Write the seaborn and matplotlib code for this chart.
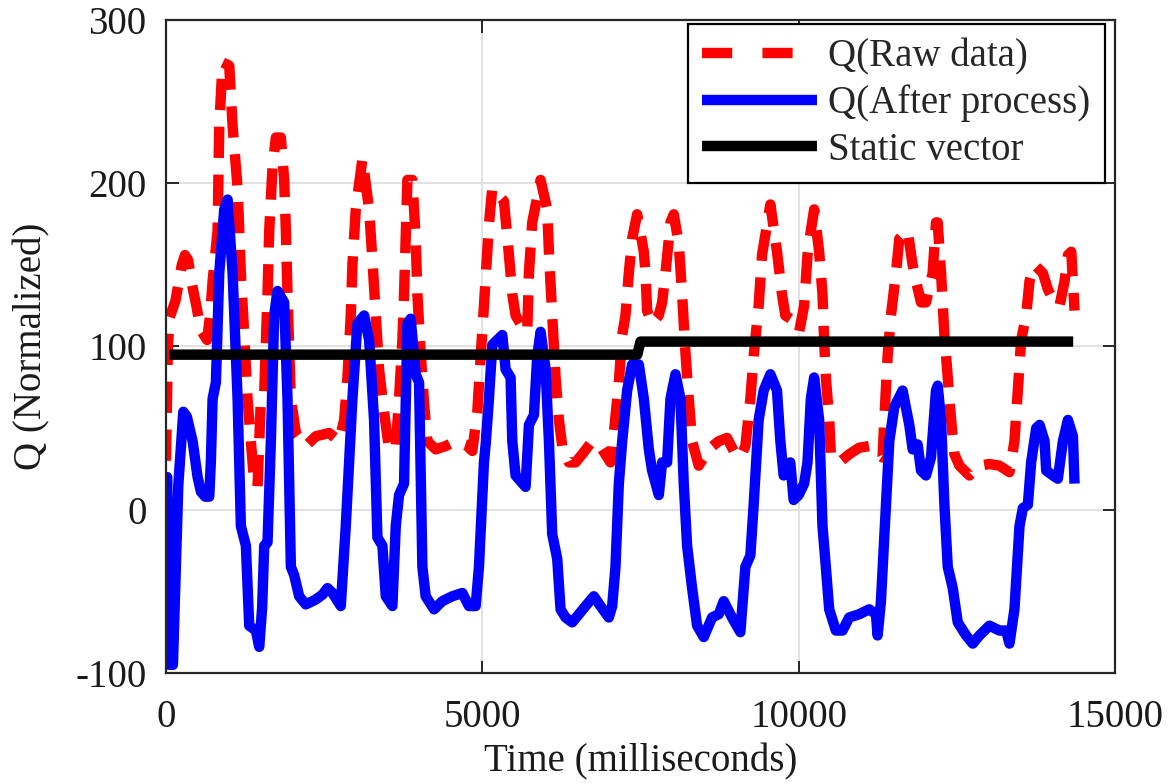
import matplotlib
matplotlib.use("Agg")
import matplotlib.pyplot as plt
import seaborn as sns

# ---- data ----
raw_t = [0, 30, 60, 150, 250, 300, 350, 400, 480, 550, 650, 700, 737, 816, 842, 895,
         1000, 1053, 1132, 1184, 1237, 1289, 1342, 1395, 1447, 1500, 1553, 1605, 1632,
         1684, 1737, 1816, 1868, 1895, 1921, 1947, 1974, 2053, 2210, 2368, 2579, 2737,
         2816, 2868, 2921, 2947, 3000, 3105, 3211, 3263, 3316, 3368, 3447, 3526, 3632,
         3684, 3737, 3763, 3789, 3816, 3895, 3947, 3974, 4026, 4079, 4131, 4263, 4421,
         4579, 4737, 4842, 4921, 4974, 5026, 5105, 5158, 5342, 5421, 5474, 5526, 5632,
         5710, 5737, 5789, 5921, 6026, 6053, 6079, 6132, 6158, 6211, 6263, 6368, 6474,
         6579, 6737, 6895, 7026, 7079, 7158, 7211, 7263, 7316, 7368, 7447, 7553, 7579,
         7605, 7684, 7789, 7842, 7895, 7974, 8026, 8105, 8158, 8211, 8263, 8316, 8421,
         8500, 8579, 8737, 8868, 9000, 9079, 9158, 9237, 9289, 9368, 9421, 9553, 9658,
         9737, 9789, 9868, 10008, 10087, 10140, 10193, 10245, 10324, 10377, 10403,
         10430, 10483, 10509, 10641, 10799, 10958, 11116, 11248, 11327, 11354, 11406,
         11459, 11538, 11591, 11722, 11802, 11855, 11934, 12013, 12118, 12171, 12198,
         12251, 12304, 12357, 12410, 12462, 12541, 12699, 12858, 13016, 13174, 13332,
         13411, 13464, 13517, 13596, 13649, 13728, 13860, 13939, 14045, 14124, 14203,
         14256, 14309, 14361]
raw_q = [30, 100, 118, 128, 150, 156, 153, 140, 125, 110, 104, 120, 140, 171, 235, 274,
         272, 235, 197, 145, 107, 68, 42, 16, 14, 68, 72, 132, 171,
         210, 228, 228, 202, 171, 132, 99, 68, 47, 39, 45, 47, 42,
         55, 81, 119, 150, 184, 215, 184, 153, 119, 86, 60, 37, 38,
         68, 104, 132, 166, 202, 202, 166, 132, 96, 65, 42, 37, 39,
         42, 40, 36, 60, 94, 125, 175, 197, 189, 156, 132, 119, 112,
         109, 145, 176, 202, 184, 158, 138, 99, 81, 55, 39, 29, 29,
         34, 42, 37, 29, 47, 78, 107, 119, 145, 166, 181, 158, 145,
         122, 114, 119, 127, 145, 176, 181, 163, 132, 96, 68, 42, 27,
         32, 37, 42, 44, 34, 32, 39, 68, 94, 125, 156, 187, 158,
         132, 119, 117, 109, 125, 156, 171, 184, 158, 132, 104,
         81, 55, 34, 29, 34, 38, 39, 34, 32, 55, 94,
         119, 145, 166, 171, 150, 140, 127, 127, 145, 176, 176,
         145, 107, 81, 55, 34, 27, 21, 27, 28, 27, 23,
         42, 73, 104, 119, 140, 150, 145, 135, 127, 125, 140,
         156, 158, 122]

proc_t = [0, 20, 50, 110, 195, 274, 330, 421, 500, 553, 620, 684, 710, 737, 789, 842,
          921, 974, 1053, 1132, 1184, 1263, 1316, 1421, 1474, 1520, 1553, 1605, 1658,
          1710, 1763, 1868, 1921, 1974, 2026, 2105, 2210, 2368, 2474, 2553, 2632, 2763,
          2842, 2947, 3026, 3132, 3211, 3289, 3342, 3421, 3474, 3579, 3632, 3684, 3763,
          3816, 3868, 3947, 4000, 4053, 4105, 4237, 4368, 4526, 4684, 4789, 4895, 4947,
          5026, 5053, 5105, 5158, 5316, 5368, 5447, 5474, 5526, 5684, 5737, 5816, 5868,
          5921, 6000, 6053, 6105, 6184, 6237, 6316, 6421, 6526, 6632, 6763, 6868, 7000,
          7053, 7105, 7158, 7211, 7289, 7368, 7474, 7553, 7632, 7684, 7790, 7842, 7921,
          7974, 8053, 8132, 8184, 8237, 8316, 8395, 8500, 8632, 8737, 8816, 8947, 9079,
          9158, 9237, 9289, 9368, 9447, 9553, 9658, 9711, 9763, 9868, 9921, 10000,
          10087, 10140, 10193, 10245, 10324, 10377, 10430, 10483, 10588, 10694, 10799,
          10958, 11116, 11222, 11248, 11301, 11380, 11433, 11512, 11643, 11749, 11802,
          11881, 11934, 12013, 12092, 12171, 12198, 12251, 12304, 12357, 12436, 12515,
          12647, 12752, 12858, 13016, 13174, 13280, 13332, 13411, 13491, 13544, 13623,
          13675, 13755, 13808, 13887, 13913, 14018, 14097, 14177, 14256, 14335, 14361]
proc_q = [20, 20, -95, -95, 15, 60, 57, 42, 20, 11, 8, 8, 30, 68, 78, 145,
          184, 190, 145, 68, -10, -22, -71, -74, -84, -60, -22, -20, 42,
          119, 134, 127, 68, -35, -40, -53, -58, -55, -52, -48, -51, -59,
          -10, 68, 114, 119, 104, 55, -17, -22, -53, -59, -10, 9, 16,
          114, 117, 83, 78, -35, -53, -61, -56, -53, -51, -59, -59, -35,
          29, 40, 68, 101, 107, 86, 81, 42, 21, 14, 52, 58, 94,
          109, 86, 42, -15, -30, -61, -66, -69, -64, -59, -53, -59, -66,
          -59, -35, 16, 42, 73, 89, 89, 68, 37, 24, 9, 29, 29,
          68, 83, 68, 16, -22, -48, -71, -78, -66, -64, -56, -66, -75,
          -35, -28, 3, 55, 73, 83, 73, 42, 21, 29, 6, 9,
          16, 29, 68, 81, 55, -10, -35, -61, -74, -74, -66,
          -64, -61, -64, -77, -56, 3, 42, 63, 73, 52, 37,
          40, 24, 21, 32, 73, 76, 55, 3, -35, -48, -69,
          -77, -82, -77, -71, -74, -74, -82, -61, -10, 1, 3,
          29, 50, 52, 42, 24, 21, 19, 42, 55, 45, 16]

static_t = [50, 7450, 7500, 14340]
static_q = [95, 95, 103, 103]

x_ticks = [0, 5000, 10000, 15000]
y_ticks = [-100, 0, 100, 200, 300]
labels = ["Q(Raw data)", "Q(After process)", "Static vector"]

# ---- style ----
sns.set_theme(style="whitegrid")
plt.rcParams['font.family'] = ['Liberation Serif', 'DejaVu Serif']
plt.rcParams['axes.unicode_minus'] = False

FS = 28
fig = plt.figure(figsize=(11.68, 7.84), dpi=100)
fig.patch.set_facecolor('white')
ax = fig.add_axes([0.1421, 0.1416, 0.8125, 0.8329])
ax.set_facecolor('white')

LW = 7.5
sns.lineplot(x=raw_t, y=raw_q, ax=ax, color='#ff0000', linewidth=LW,
             sort=False, estimator=None, label=labels[0])
sns.lineplot(x=proc_t, y=proc_q, ax=ax, color='#0000ff', linewidth=LW,
             sort=False, estimator=None, label=labels[1])
sns.lineplot(x=static_t, y=static_q, ax=ax, color='black', linewidth=LW,
             sort=False, estimator=None, label=labels[2])

lines = ax.get_lines()
lines[0].set_dashes([3.0, 1.6])
for ln in lines:
    ln.set_solid_joinstyle('round')
    ln.set_solid_capstyle('butt')

ax.set_xlim(0, 15000)
ax.set_ylim(-100, 300)
ax.set_xticks(x_ticks)
ax.set_yticks(y_ticks)
ax.set_xticklabels([str(v) for v in x_ticks])
ax.set_yticklabels([str(v) for v in y_ticks])

ax.grid(True, color='0.87', linewidth=1.3)
ax.set_axisbelow(True)
for s in ax.spines.values():
    s.set_color('0.15')
    s.set_linewidth(1.6)
    s.set_visible(True)

ax.tick_params(axis='both', direction='in', length=9, width=1.4, color='0.15',
               labelcolor='0.1', labelsize=FS, top=True, right=True,
               bottom=True, left=True)
ax.tick_params(axis='x', pad=19)
ax.tick_params(axis='y', pad=14)

ax.set_xlabel('Time (milliseconds)', fontsize=FS, color='0.1', labelpad=5)
ax.set_ylabel('Q (Normalized)', fontsize=FS, color='0.1', labelpad=18)

leg = ax.legend(loc='upper right', bbox_to_anchor=(0.9895, 0.9939),
                borderaxespad=0, frameon=True, fancybox=False, framealpha=1,
                edgecolor='black', fontsize=FS, handlelength=2.96,
                labelspacing=0.24, borderpad=0.37, handletextpad=0.28)
leg.get_frame().set_linewidth(1.6)
for hl in leg.get_lines():
    hl.set_linewidth(LW)
leg.get_lines()[0].set_dashes([2.9, 2.9])

fig.savefig('out.png', dpi=100, facecolor='white')
